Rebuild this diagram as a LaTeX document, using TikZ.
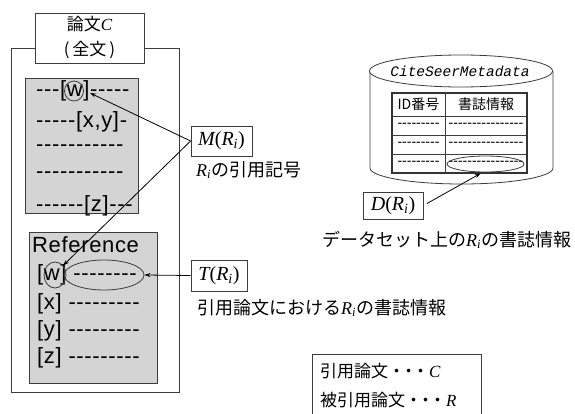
\documentclass[tikz,border=0pt]{standalone}
\usepackage{fontspec}
\setmainfont{Liberation Sans}[Ligatures=TeXOff]
\newfontfamily\gfont{Liberation Sans}[Ligatures=TeXOff,LetterSpace=3]
\newfontfamily\jp{Noto Sans CJK JP}
\newfontfamily\tms{Liberation Serif}
\newfontfamily\mon{Liberation Mono}
\usetikzlibrary{arrows.meta,shapes.geometric}
\definecolor{graybg}{RGB}{212,212,212}
\definecolor{linec}{RGB}{60,60,60}
\newcommand{\Ri}{{\tms\itshape R\textsubscript{i}}}
\newcommand{\tdots}{・\kern-5pt・\kern-5pt・}
\begin{document}
\begin{tikzpicture}[x=1pt,y=-1pt,
  frame/.style={draw=linec, line width=0.8pt},
  graybox/.style={draw=linec, fill=graybg, line width=0.8pt},
  lbl/.style={draw=linec, line width=0.8pt, fill=white, inner sep=0pt},
  gtxt/.style={inner sep=0pt, anchor=west, font=\fontsize{22}{22}\selectfont\gfont},
  ttxt/.style={inner sep=0pt, font=\fontsize{14}{14}\selectfont},
  jtxt/.style={inner sep=0pt, anchor=west, font=\fontsize{18}{18}\selectfont},
  mtxt/.style={font=\fontsize{20}{20}\selectfont\tms},
  ring/.style={draw=linec, line width=0.8pt, ellipse, inner sep=0pt},
  arr/.style={draw=black, line width=0.8pt, -{Stealth[length=6pt,width=4pt]}}]
\useasboundingbox (0,0) rectangle (575,414);

% paper C frame
\draw[frame] (11,48) rectangle (179,392);
\node[lbl, align=center, minimum width=109, minimum height=50,
  font=\fontsize{17}{25}\selectfont] (title) at (89.5,38)
  {{\jp 論文}{\tms\itshape C}\\{\jp (\kern3pt 全文\kern3pt )}};

% body text box
\draw[graybox] (25,78) rectangle (138,213);
\node[gtxt] (b1) at (36,91) {---[w]-----};
\node[gtxt] (b2) at (36,122) {-----[x,y]-};
\node[gtxt] (b3) at (36,148) {-----------};
\node[gtxt] (b4) at (36,175) {-----------};
\node[gtxt] (b5) at (36,206) {------[z]---};
\node[ring, minimum width=19, minimum height=20] (wtop) at (74,91) {};
\coordinate (wtip) at (90,93);

% reference box
\draw[graybox] (29,232) rectangle (157,383);
\node[gtxt] (rh) at (32,245) {Reference};
\node[gtxt] (r1) at (37,275) {[w] --------};
\node[gtxt] (r2) at (37,304) {[x] ---------};
\node[gtxt] (r3) at (37,331) {[y] ---------};
\node[gtxt] (r4) at (37,358) {[z] ---------};
\node[ring, minimum width=22, minimum height=26] (wref) at (55,275) {};
\node[ring, minimum width=80, minimum height=30] (refell) at (104,275) {};

% M(Ri)
\node[lbl, mtxt, minimum width=61, minimum height=30] (M) at (221.5,141)
  {\itshape M\upshape(\itshape R\textsubscript{i}\upshape)};
\node[jtxt] (Mlab) at (196,170) {\Ri{\jp の引用記号}};
\draw[arr] (M.west) -- (wtip);
\draw[arr] (M.west) -- (wref.north east);

% T(Ri)
\node[lbl, mtxt, minimum width=56, minimum height=31] (T) at (219,275.5)
  {\itshape T\upshape(\itshape R\textsubscript{i}\upshape)};
\node[jtxt] (Tlab) at (197,308) {{\jp 引用論文における}\Ri{\jp の書誌情報}};
\draw[arr] (T.west) -- (refell.east);

% cylinder
\draw[frame, fill=white] (370,71) -- (370,168)
  arc[start angle=180, end angle=360, x radius=91.5pt, y radius=16pt] -- (553,71);
\draw[frame, fill=white] (461,71) ellipse[x radius=91.5pt, y radius=16pt];
\node[inner sep=0pt, font=\fontsize{14.5}{16}\selectfont\mon\itshape] (cs) at (460,71) {CiteSeerMetadata};

% table
\draw[draw=linec, line width=0.6pt] (392,116) -- (527,116) (392,135) -- (527,135)
  (392,154) -- (527,154) (445,93) -- (445,173);
\draw[draw=black!80, line width=1.2pt] (392,93) rectangle (527,173);
\node[ttxt] (h1) at (418.5,104.5) {\jp ID番号};
\node[ttxt] (h2) at (486,104.5) {\jp 書誌情報};
\node[ttxt] (c11) at (418.5,125.5) {---------};
\node[ttxt] (c12) at (486,125.5) {----------------};
\node[ttxt] (c21) at (418.5,144.5) {---------};
\node[ttxt] (c22) at (486,144.5) {----------------};
\node[ttxt] (c31) at (418.5,163.5) {---------};
\node[ttxt] (c32) at (486,163.5) {----------------};
\node[ring, minimum width=77, minimum height=16] (dell) at (485.5,164) {};

% D(Ri)
\node[lbl, mtxt, minimum width=60, minimum height=27] (D) at (393,205.5)
  {\itshape D\upshape(\itshape R\textsubscript{i}\upshape)};
\node[jtxt] (Dlab) at (322,240) {{\jp データセット上の}\Ri{\jp の書誌情報}};
\draw[arr, shorten <=4pt, shorten >=2pt] (D.east) -- (dell.250);

% legend
\draw[frame] (312,354) -- (312,420) (312,354) -- (481,354) -- (481,420);
\node[jtxt, font=\fontsize{17}{17}\selectfont] (lg1) at (320,371)
  {{\jp 引用論文\tdots}{\tms\itshape C}};
\node[jtxt, font=\fontsize{17}{17}\selectfont] (lg2) at (320,400)
  {{\jp 被引用論文\tdots}{\tms\itshape R}};
\end{tikzpicture}
\end{document}
